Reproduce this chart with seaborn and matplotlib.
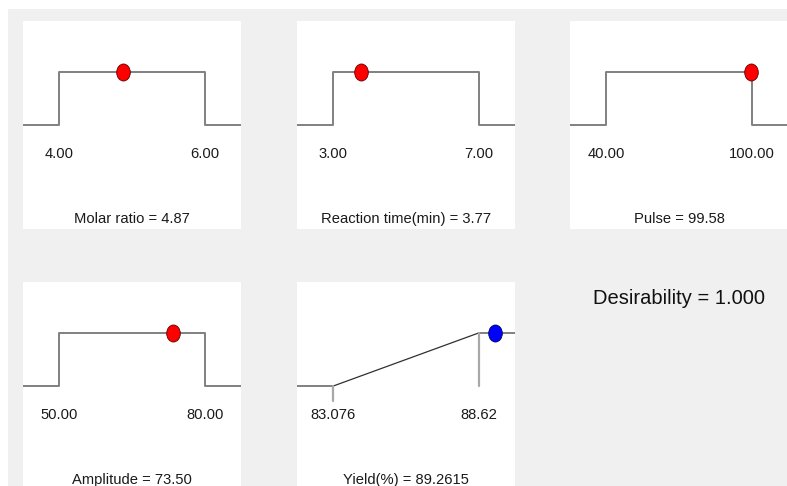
import matplotlib
matplotlib.use("Agg")
import matplotlib.pyplot as plt
from matplotlib.path import Path
import numpy as np
import seaborn as sns

# Factor settings (desirability ramps) and optimum found
factor_names = ["Molar ratio", "Reaction time(min)", "Pulse", "Amplitude"]
factor_low = [4.0, 3.0, 40.0, 50.0]
factor_high = [6.0, 7.0, 100.0, 80.0]
factor_opt = [4.87, 3.77, 99.58, 73.50]
factor_fmt = ["{:.2f}", "{:.2f}", "{:.2f}", "{:.2f}"]

# Response
resp_name = "Yield(%)"
resp_low = 83.076
resp_high = 88.62
resp_value = 89.2615
resp_low_label = "83.076"
resp_high_label = "88.62"

desirability = 1.000

sns.set_theme(style="white")
plt.rcParams["font.family"] = ["Liberation Sans", "DejaVu Sans"]

W, H = 787, 486
fig = plt.figure(figsize=(W / 100, H / 100), dpi=100, facecolor="white")

# grey work area
bg = fig.add_axes([8 / W, 0, 1 - 8 / W, (H - 9) / H])
bg.set_axis_off()
bg.add_patch(plt.Rectangle((0, 0), 1, 1, transform=bg.transAxes, color="#f0f0f0", zorder=0))

PW, PH = 218, 208
panel_pos = [(23, 21), (297, 21), (570, 21), (23, 282), (297, 282)]

# slightly tall ellipse marker
circ = Path.unit_circle()
ell = Path(circ.vertices * np.array([0.8, 1.0]), circ.codes)

TXT = "#1a1a1a"
STEP = "#808080"
FS = 10.6


def make_panel(px, py):
    ax = fig.add_axes([px / W, (H - py - PH) / H, PW / W, PH / H])
    ax.set_facecolor("white")
    for s in ax.spines.values():
        s.set_visible(False)
    ax.set_xticks([])
    ax.set_yticks([])
    ax.set_ylim(-1.961, 1.961)
    return ax


for i in range(4):
    lo, hi, opt = factor_low[i], factor_high[i], factor_opt[i]
    span = hi - lo
    x0, x1 = lo - 0.25 * span, hi + 0.25 * span
    ax = make_panel(*panel_pos[i])
    ax.set_xlim(x0, x1)
    xs = [x0, lo, lo, hi, hi, x1]
    ys = [0, 0, 1, 1, 0, 0]
    sns.lineplot(x=xs, y=ys, ax=ax, estimator=None, sort=False,
                 color=STEP, linewidth=1.4)
    sns.scatterplot(x=[opt], y=[1], ax=ax, marker=ell, s=150,
                    color="#ff0000", edgecolor="#600000", linewidth=0.6, zorder=5)
    tr = ax.get_xaxis_transform()
    ax.text(lo, 0.36, factor_fmt[i].format(lo), transform=tr, ha="center",
            va="center", fontsize=FS, color=TXT)
    ax.text(hi, 0.36, factor_fmt[i].format(hi), transform=tr, ha="center",
            va="center", fontsize=FS, color=TXT)
    ax.text(0.5, 0.05, f"{factor_names[i]} = {opt:.2f}", transform=ax.transAxes,
            ha="center", va="center", fontsize=FS, color=TXT)

# response panel
ax = make_panel(*panel_pos[4])
span = resp_high - resp_low
x0, x1 = resp_low - 0.25 * span, resp_high + 0.25 * span
ax.set_xlim(x0, x1)
sns.lineplot(x=[x0, resp_low], y=[0, 0], ax=ax, color=STEP, linewidth=1.4)
sns.lineplot(x=[resp_high, x1], y=[1, 1], ax=ax, color=STEP, linewidth=1.4)
sns.lineplot(x=[resp_low, resp_high], y=[0, 1], ax=ax, color="#303030", linewidth=0.9)
tr = ax.get_xaxis_transform()
ax.plot([resp_low, resp_low], [0.5, 0.428], transform=tr, color="#a8a8a8", linewidth=1.6)
ax.plot([resp_high, resp_high], [0.755, 0.5], transform=tr, color="#a8a8a8", linewidth=1.6)
sns.scatterplot(x=[resp_value], y=[1], ax=ax, marker=ell, s=150,
                color="#0000ff", edgecolor="#000060", linewidth=0.6, zorder=5)
ax.text(resp_low, 0.36, resp_low_label, transform=tr, ha="center", va="center",
        fontsize=FS, color=TXT)
ax.text(resp_high, 0.36, resp_high_label, transform=tr, ha="center", va="center",
        fontsize=FS, color=TXT)
ax.text(0.5, 0.05, f"{resp_name} = {resp_value:.4f}", transform=ax.transAxes,
        ha="center", va="center", fontsize=FS, color=TXT)

fig.text(679 / W, 1 - 298 / H, f"Desirability = {desirability:.3f}",
         ha="center", va="center", fontsize=14.5, color="#111111")

fig.savefig("out.png", dpi=100, facecolor="white")
